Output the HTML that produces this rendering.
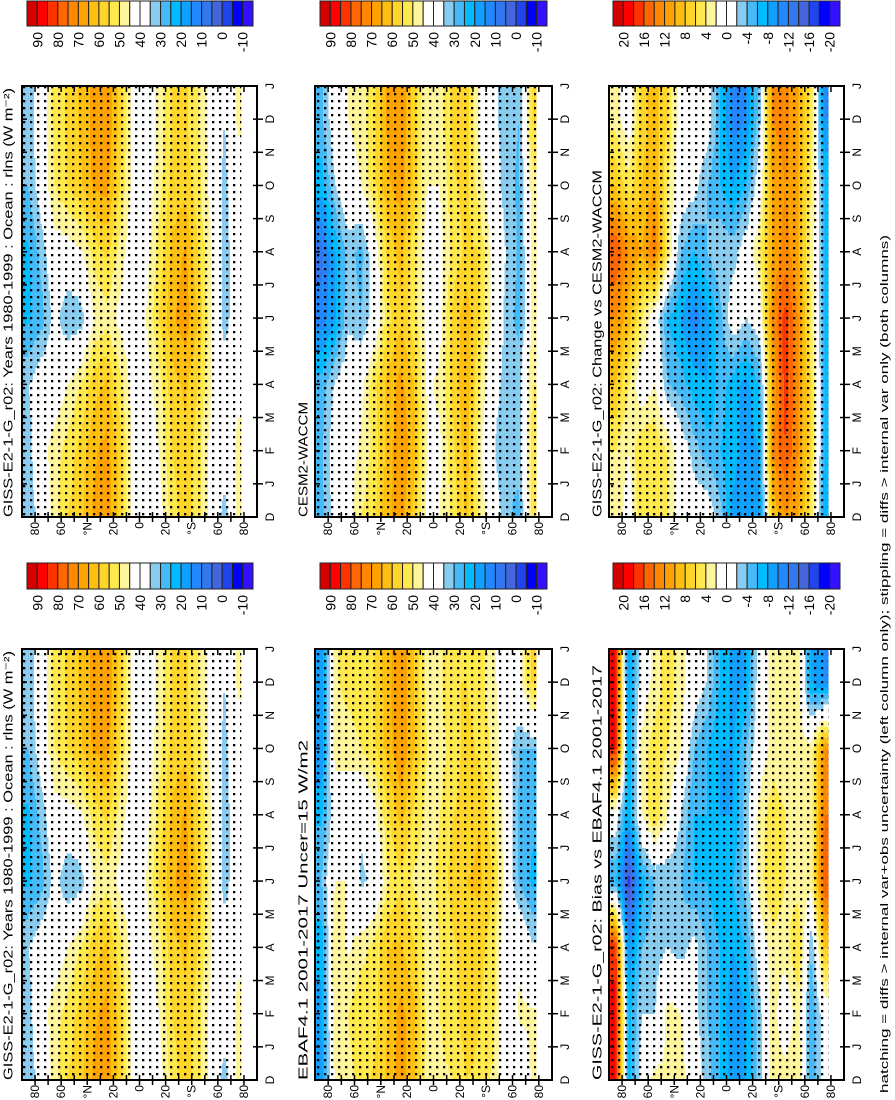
<!DOCTYPE html>
<html><head><meta charset="utf-8">
<style>
html,body{margin:0;padding:0;background:#fff;}
svg{display:block;font-family:"Liberation Sans Narrow","Liberation Sans",sans-serif;}
</style></head>
<body>
<svg id="fig" width="895" height="1100" viewBox="0 0 895 1100" xmlns="http://www.w3.org/2000/svg">
<defs>
<pattern id="dots" width="7" height="7" patternUnits="userSpaceOnUse">
<rect x="2" y="2" width="2.3" height="2.3" fill="#000"/>
</pattern>
</defs>
<g id="root"></g>
</svg>
<script>
// latitude nodes (deg, + = N) and month-label indices of time nodes (0 = bottom D)
const lats = [85,75,65,55,45,35,25,15,5,-5,-15,-25,-35,-45,-55,-65,-75];
const timeNodes = [0,2,4,6,8,10,12];
const monthLabels = ['D','J','F','M','A','M','J','J','A','S','O','N','D','J'];
const latTicks = [80,60,40,20,0,-20,-40,-60,-80];
const latTickLabels = ['80','60','°N','20','0','20','°S','60','80'];
const absBarLabels = ['90','80','70','60','50','40','30','20','10','0','-10'];
const diffBarLabels = ['20','16','12','8','4','0','-4','-8','-12','-16','-20'];

// GISS 1980-1999 (rows bottom D -> top D)
const giss = [
 [32,38,48,55,59,66,69,58,42,40,42,52,58,52,42,32,46],
 [33,42,48,52,57,64,67,58,42,40,45,55,59,52,42,40,46],
 [35,40,40,45,50,58,61,52,42,42,48,58,61,55,45,40,44],
 [24,28,38,30,32,45,48,43,40,45,55,64,68,60,45,32,40],
 [24,32,42,42,44,52,56,48,40,42,52,61,66,55,45,32,40],
 [30,40,50,55,59,66,67,55,42,40,48,57,58,52,42,33,42],
 [32,40,52,56,61,67,70,58,42,40,47,55,56,50,42,35,46]
];
const cesm = [
 [28,38,42,50,54,64,68,58,43,45,52,61,49,40,32,27,54],
 [29,40,42,46,52,62,69,63,45,44,54,63,46,36,30,34,52],
 [27,36,40,43,54,62,67,60,44,46,57,64,50,38,33,34,50],
 [12,19,34,30,38,53,59,52,43,43,57,63,55,43,33,28,46],
 [8,20,32,28,40,56,62,52,41,43,52,56,55,42,35,29,46],
 [22,35,42,45,54,64,67,59,45,45,54,57,47,40,32,29,48],
 [29,40,45,47,54,66,70,58,45,47,57,58,43,37,32,30,56]
];
const change = [
 [4,0,6,5,4,0,0,0,-3,-9,-10,-9,8,12,10,5,-8],
 [4,2,6,6,4,0,-3,-5,-6,-7,-9,-8,12,16,12,6,-6],
 [8,4,0,2,-4,-5,-7,-8,-5,-7,-9,-6,10,17,12,6,-6],
 [12,9,4,0,-6,-8,-11,-9,-5,0,-2,0,12,17,12,4,-6],
 [16,12,10,14,4,-4,-6,-4,-2,-3,0,4,10,13,10,3,-6],
 [8,5,8,10,4,0,-1,-4,-6,-8,-6,0,10,12,10,4,-6],
 [3,0,7,9,6,0,0,0,-6,-11,-10,-3,12,13,10,5,-10]
];
const ebaf = [
 [18,46,48,52,56,61,68,61,48,49,50,55,54,49,38,38,46],
 [19,49,50,54,53,60,67,62,48,50,53,58,55,52,39,46,46],
 [21,50,44,48,52,60,61,56,48,50,54,58,57,52,39,44,36],
 [30,45,45,34,36,49,54,49,48,51,58,60,61,56,42,29,24],
 [24,40,40,36,42,54,62,54,48,50,55,57,60,51,42,29,26],
 [15,48,47,50,54,62,70,61,50,48,52,57,54,49,39,30,30],
 [17,49,52,53,55,63,70,60,48,49,55,55,52,47,39,43,56]
];
const bias = [
 [19,-8,0,3,2,3,0,-3,-6,-9,-8,-3,3,3,4,-6,0],
 [19,-7,-2,-2,3,2,-1,-4,-6,-10,-8,-3,3,0,3,-6,0],
 [17,-10,-4,-3,-2,-3,-1,-4,-6,-8,-6,0,3,3,6,-4,8],
 [-6,-17,-7,-4,-4,-4,-6,-6,-8,-6,-3,3,6,4,3,3,16],
 [0,-8,2,6,2,-2,-6,-6,-8,-8,-3,3,5,4,3,3,14],
 [18,-8,3,5,4,2,-4,-6,-8,-8,-4,0,3,3,3,3,12],
 [19,-9,0,3,5,3,0,-2,-6,-9,-8,0,3,3,3,-8,-10]
];

const palette = ['#d40000','#ff0000','#ff3300','#ff6600','#ff8800','#ffa200','#ffbf10','#ffd52a','#ffe94c','#fff59a','#ffffff','#ffffff','#88ccf0','#44bbf8','#00bbff','#11a0ff','#2288ff','#3377ee','#4466dd','#2244ee','#0000ff','#3311ff'];

const NS = 'http://www.w3.org/2000/svg';
const root = document.getElementById('root');
function mk(tag, attrs, parent){
  const e = document.createElementNS(NS, tag);
  for (const k in attrs) e.setAttribute(k, attrs[k]);
  (parent||root).appendChild(e);
  return e;
}

const panels = [
 {x:22,w:235,top:86,bot:517,data:giss,kind:'abs',title:'GISS-E2-1-G_r02: Years 1980-1999 : Ocean : rlns (W m\u207B\u00B2)',tx:8,tl:429,name:'giss-1980-1999-panel'},
 {x:22,w:235,top:649,bot:1080,data:giss,kind:'abs',title:'GISS-E2-1-G_r02: Years 1980-1999 : Ocean : rlns (W m\u207B\u00B2)',tx:8,tl:429,name:'giss-1980-1999-lower-panel'},
 {x:315,w:237,top:86,bot:517,data:cesm,kind:'abs',title:'CESM2-WACCM',tx:303,tl:115,name:'cesm2-waccm-panel'},
 {x:315,w:237,top:649,bot:1080,data:ebaf,kind:'abs',title:'EBAF4.1 2001-2017 Uncer=15 W/m2',tx:303,tl:340,name:'ebaf-panel'},
 {x:609,w:235,top:86,bot:517,data:change,kind:'diff',title:'GISS-E2-1-G_r02: Change vs CESM2-WACCM',tx:597,tl:347,name:'change-vs-cesm-panel'},
 {x:609,w:235,top:649,bot:1080,data:bias,kind:'diff',title:'GISS-E2-1-G_r02: Bias vs EBAF4.1 2001-2017',tx:597,tl:415,name:'bias-vs-ebaf-panel'}
];
const bars = [
 {x0:27,x1:253,y0:1,y1:26,kind:'abs'},{x0:320,x1:547,y0:1,y1:26,kind:'abs'},{x0:613,x1:840,y0:1,y1:26,kind:'diff'},
 {x0:27,x1:253,y0:563,y1:589,kind:'abs'},{x0:320,x1:547,y0:563,y1:589,kind:'abs'},{x0:613,x1:840,y0:563,y1:589,kind:'diff'}
];

function colorIdx(v, kind){
  let i = kind==='abs' ? Math.floor((95 - v)/5) : Math.floor((22 - v)/2);
  return Math.max(0, Math.min(21, i));
}
function interp(data, lat, tm){
  if (lat < -78) return null;
  let t = Math.max(timeNodes[0], Math.min(timeNodes[timeNodes.length-1], tm));
  let ti = 0; while (ti < timeNodes.length-2 && t > timeNodes[ti+1]) ti++;
  const f = (t - timeNodes[ti])/(timeNodes[ti+1]-timeNodes[ti]);
  let u = Math.max(0, Math.min(lats.length-1, (lats[0]-lat)/(lats[0]-lats[1])));
  let j = Math.min(lats.length-2, Math.floor(u)); const g = u - j;
  const a = data[ti][j]*(1-g) + data[ti][j+1]*g;
  const b = data[ti+1][j]*(1-g) + data[ti+1][j+1]*g;
  return a*(1-f) + b*f;
}

panels.forEach(p => {
  const h = p.bot - p.top;
  const xOf = lat => p.x + (90 - lat)/180*p.w;
  const yOf = m => p.bot - m/13*h;
  const g = mk('g', {});
  
  
  const field = mk('g', {'shape-rendering':'crispEdges'}, g);
  
  
  const NX = 180, PER = 6, NY = 13*PER;
  for (let r = 0; r < NY; r++){
    const tm = (r + 0.5)/PER;
    let runStart = 0, runCol = null;
    const flush = (end) => {
      if (runCol !== null && runCol !== '#ffffff'){
        const rc = mk('rect', {x:(p.x + runStart*p.w/NX).toFixed(2), y:(yOf((r+1)/PER)).toFixed(2),
          width:((end-runStart)*p.w/NX + 0.4).toFixed(2), height:(h/NY + 0.4).toFixed(2), fill:runCol}, field);
        
        
      }
    };
    for (let c = 0; c < NX; c++){
      const lat = 90 - (c + 0.5);
      const v = interp(p.data, lat, tm);
      const col = v === null ? null : palette[colorIdx(v, p.kind)];
      if (col !== runCol){ flush(c); runStart = c; runCol = col; }
    }
    flush(NX);
  }
  const st = mk('rect', {x:p.x, y:p.top, width:(xOf(-78)-p.x).toFixed(1), height:h, fill:'url(#dots)'}, g);
  
  
  const fr = mk('rect', {x:p.x, y:p.top, width:p.w, height:h, fill:'none', stroke:'#000', 'stroke-width':2}, g);
  
  
  for (let lat = 80; lat >= -80; lat -= 10){
    const x = xOf(lat);
    mk('line', {x1:x, y1:p.top-1, x2:x, y2:p.top+6, stroke:'#000','stroke-width':1.5}, g);
    mk('line', {x1:x, y1:p.bot-5, x2:x, y2:p.bot+5, stroke:'#000','stroke-width':1.5}, g);
  }
  latTicks.forEach((lat, i) => {
    const t = mk('text', {transform:`translate(${xOf(lat).toFixed(1)},${p.bot+5}) rotate(-90)`, 'text-anchor':'end', 'dominant-baseline':'central', 'font-size':12}, g);
    t.textContent = latTickLabels[i];
    
    
  });
  monthLabels.forEach((m, i) => {
    const y = yOf(i);
    if (i > 0 && i < 13){
      mk('line', {x1:p.x-1, y1:y, x2:p.x+5, y2:y, stroke:'#000','stroke-width':1.5}, g);
      mk('line', {x1:p.x+p.w-4, y1:y, x2:p.x+p.w+6, y2:y, stroke:'#000','stroke-width':1.5}, g);
    }
    const t = mk('text', {transform:`translate(${p.x+p.w+13},${y.toFixed(1)}) rotate(-90)`, 'text-anchor':'middle', 'dominant-baseline':'central', 'font-size':12}, g);
    t.textContent = m;
    
    
  });
  const tt = mk('text', {transform:`translate(${p.tx},${p.bot}) rotate(-90)`, 'text-anchor':'start', 'dominant-baseline':'central', 'font-size':13, textLength:p.tl, lengthAdjust:'spacingAndGlyphs'}, g);
  tt.textContent = p.title;
  
  
});

bars.forEach(b => {
  const g = mk('g', {});
  
  
  const cw = (b.x1 - b.x0)/22;
  palette.forEach((c, i) => {
    const r = mk('rect', {x:(b.x0 + i*cw).toFixed(2), y:b.y0, width:cw.toFixed(2), height:b.y1-b.y0, fill:c, stroke:'#222', 'stroke-width':1}, g);
    
    
  });
  const labs = b.kind === 'abs' ? absBarLabels : diffBarLabels;
  labs.forEach((l, k) => {
    const x = b.x0 + (2*k+1)*cw;
    const t = mk('text', {transform:`translate(${x.toFixed(1)},${b.y1+6}) rotate(-90)`, 'text-anchor':'end', 'dominant-baseline':'central', 'font-size':14}, g);
    t.textContent = l;
    
    
  });
});

const fn = mk('text', {transform:'translate(885,1093) rotate(-90)', 'text-anchor':'start', 'dominant-baseline':'central', 'font-size':11, textLength:858, lengthAdjust:'spacingAndGlyphs'});
fn.textContent = 'hatching = diffs > internal var+obs uncertainty (left column only); stippling = diffs > internal var only (both columns)';


</script>
</body></html>
